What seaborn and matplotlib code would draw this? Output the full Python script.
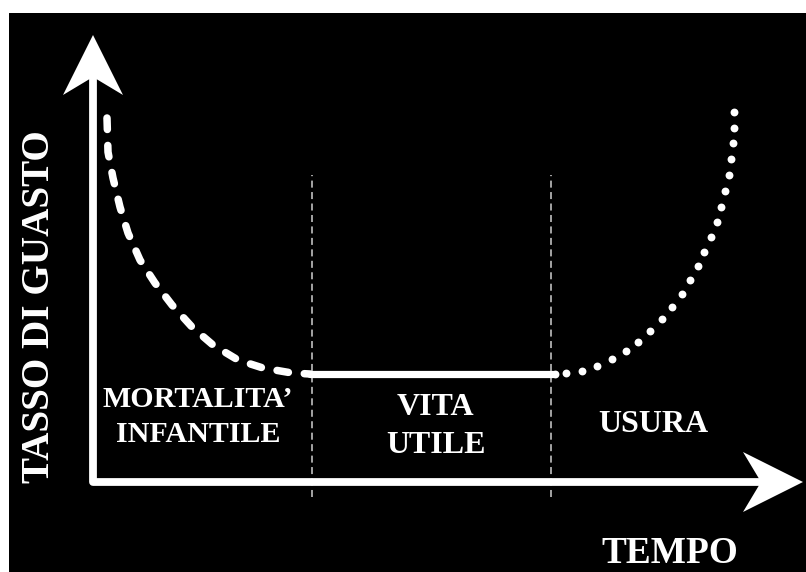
import matplotlib
matplotlib.use("Agg")
import matplotlib.pyplot as plt
import seaborn as sns

# bathtub curve, values (time, failure rate in arbitrary units)
infant_t = [1.4, 1.5, 2.0, 2.7, 3.5, 4.7, 6.2, 7.9, 9.9, 12.0, 14.5, 17.0, 19.9, 21.7]
infant_rate = [36.4, 33.0, 30.4, 27.5, 24.9, 22.2, 19.9, 17.7, 15.5, 13.7, 12.2, 11.4, 10.9, 10.8]

useful_t = [21.7, 46.0]
useful_rate = [10.8, 10.8]

wear_t = [46.2, 47.3, 48.9, 50.4, 51.9, 53.3, 54.5, 55.7, 56.9, 57.9, 58.9, 59.7,
          60.5, 61.1, 61.8, 62.4, 62.8, 63.2, 63.6, 63.8, 64.0, 64.1, 64.1]
wear_rate = [10.8, 10.9, 11.1, 11.6, 12.3, 13.1, 14.0, 15.1, 16.3, 17.5, 18.8, 20.2,
             21.6, 23.0, 24.5, 26.0, 27.5, 29.1, 30.7, 32.3, 33.9, 35.4, 37.0]

phase_bounds = [21.9, 45.8]
phase_labels = [["MORTALITA’", "INFANTILE"], ["VITA", "UTILE"], ["USURA"]]
x_label = "TEMPO"
y_label = "TASSO DI GUASTO"

sns.set_style("white")
plt.rcParams['font.family'] = ['Liberation Serif', 'DejaVu Serif']
plt.rcParams['font.weight'] = 'bold'

fig = plt.figure(figsize=(8.06, 5.72), dpi=100, facecolor="white")
ax = fig.add_axes([9 / 806, 0, 797 / 806, 559 / 572])
ax.set_facecolor("black")
ax.set_xlim(-8.4, 71.3)
ax.set_ylim(-9.0, 46.9)
ax.set_axis_off()
ax.add_patch(plt.Rectangle((0, 0), 1, 1, transform=ax.transAxes, color="black", zorder=0))

# axes with arrows
x_end, y_end = 71.0, 44.7
head_len, head_half, notch = 6.0, 3.0, 4.2
ax.plot([0, 0, x_end - notch], [y_end - notch, 0, 0], color="white", lw=5.6,
        solid_joinstyle="round", solid_capstyle="butt", zorder=3)
ax.fill([0, -head_half, 0, head_half], [y_end, y_end - head_len, y_end - notch, y_end - head_len],
        color="white", lw=0, zorder=4)
ax.fill([x_end, x_end - head_len, x_end - notch, x_end - head_len], [0, head_half, 0, -head_half],
        color="white", lw=0, zorder=4)

# phase boundaries
for b in phase_bounds:
    ax.plot([b, b], [-1.5, 30.7], color="#d0d0d0", lw=1.1, linestyle=(0, (4.6, 2.9)), zorder=2)

# curve
sns.lineplot(x=infant_t, y=infant_rate, ax=ax, sort=False, estimator=None, color="white",
             lw=5.4, linestyle=(0, (1.53, 2.13)), dash_capstyle="round", zorder=5)
sns.lineplot(x=useful_t, y=useful_rate, ax=ax, sort=False, estimator=None, color="white",
             lw=5.2, solid_capstyle="round", zorder=5)
sns.scatterplot(x=wear_t, y=wear_rate, ax=ax, s=32, color="white", linewidth=0, zorder=5)

# labels
txt = dict(color="white", fontweight="bold", ha="center", va="baseline")
ax.text(10.5, 7.5, phase_labels[0][0], fontsize=21.6, **txt)
ax.text(10.5, 4.0, phase_labels[0][1], fontsize=21.6, **txt)
ax.text(34.2, 6.7, phase_labels[1][0], fontsize=23, **txt)
ax.text(34.3, 2.9, phase_labels[1][1], fontsize=23, **txt)
ax.text(56.0, 5.0, phase_labels[2][0], fontsize=23, **txt)
ax.text(57.7, -8.1, x_label, fontsize=26.8, **txt)
ax.text(-5.35, 17.5, y_label, fontsize=28.2, rotation=90, color="white", fontweight="bold",
        ha="center", va="center")

fig.savefig("out.png", dpi=100, facecolor="white")
